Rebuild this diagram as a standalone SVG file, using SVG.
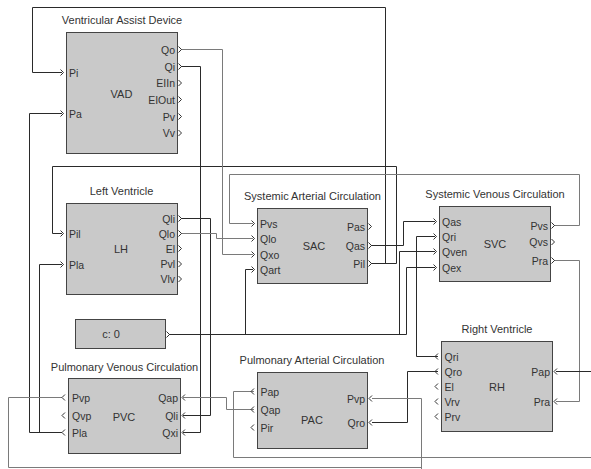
<svg xmlns="http://www.w3.org/2000/svg" width="591" height="469" viewBox="0 0 591 469">
<style>
text{font-family:"Liberation Sans",Arial,sans-serif;fill:#333}
.t{font-size:11px;text-anchor:middle}
.c{font-size:11px;text-anchor:middle}
.p{font-size:10.5px}
.r{text-anchor:end}
.box{fill:#c9c9c9;stroke:#444;stroke-width:1}
.ch{fill:none;stroke:#333;stroke-width:1}
.k{fill:none;stroke:#2a2a2a;stroke-width:1}
.g{fill:none;stroke:#7a7a7a;stroke-width:1}
.lg{fill:none;stroke:#a8a8a8;stroke-width:1}
</style>
<defs>
<path id="cin" class="ch" d="M-5.5,-3 L-2.5,0 L-5.5,3"/>
<path id="cout" class="ch" d="M1,-3 L4,0 L1,3"/>
<path id="fin" class="ch" d="M4.5,-3 L1.5,0 L4.5,3"/>
<path id="fout" class="ch" d="M-3.5,-3 L-6.5,0 L-3.5,3"/>
</defs>

<g id="connectors">
<path class="k" d="M371 263.5 H385.5 V7.5 H32.5 V72.5 H62"/>
<path class="k" d="M371 263.5 H396.5 V166.5 H52.5 V233.5 H62"/>
<path class="g" d="M181 49.5 H222.5 V254.5 H253"/>
<path class="k" d="M181 66.5 H200.5 V432.5 H183"/>
<path class="k" d="M62 432.5 H29.5 V113.5 H62"/>
<path class="k" d="M39.5 432.5 V264.5 H62"/>
<path class="k" d="M181 218.5 H210.5 V415.5 H183"/>
<path class="g" d="M181 233.5 H216.5 V238.5 H253"/>
<path class="g" d="M554 225.5 H579.5 V174.5 H229.5 V223.5 H253"/>
<path class="k" d="M169 334.5 H245.5 V269.5 H253"/>
<path class="k" d="M245 334.5 H406.5 V267.5 H435"/>
<path class="k" d="M399.5 334.5 V251.5 H435"/>
<path class="k" d="M438 356.5 H416.5 V236.5 H435"/>
<path class="k" d="M371 245.5 H403.5 V221.5 H435"/>
<path class="g" d="M554 260.5 H579.5 V401.5 H556"/>
<path class="k" d="M591 371.5 H556"/>
<path class="g" d="M254 391.5 H233.5 V457.5 H591"/>
<path class="g" d="M254 409.5 H226.5 V397.5 H183"/>
<path class="k" d="M438 371.5 H407.5 V422.5 H372"/>
<path class="g" d="M62 397.5 H8.5 V467.5 H421.5"/>
<path class="g" d="M421.5 469 V398.5 H372"/>
</g>

<g id="VAD">
<text class="t" x="122" y="24">Ventricular Assist Device</text>
<rect class="box" x="66.5" y="32.5" width="111" height="121"/>
<text class="c" x="121.5" y="97.5">VAD</text>
<use href="#cin" x="66" y="72.5"/><text class="p" x="69" y="76.5">Pi</text>
<use href="#cin" x="66" y="113.5"/><text class="p" x="69" y="117.5">Pa</text>
<use href="#cout" x="177.5" y="49.5"/><text class="p r" x="175" y="53.5">Qo</text>
<use href="#cout" x="177.5" y="66.5"/><text class="p r" x="175" y="70.5">Qi</text>
<use href="#cout" x="177.5" y="83"/><text class="p r" x="175" y="87">EIIn</text>
<use href="#cout" x="177.5" y="99.5"/><text class="p r" x="175" y="103.5">EIOut</text>
<use href="#cout" x="177.5" y="116.5"/><text class="p r" x="175" y="120.5">Pv</text>
<use href="#cout" x="177.5" y="133"/><text class="p r" x="175" y="137">Vv</text>
</g>

<g id="LH">
<text class="t" x="121.5" y="195">Left Ventricle</text>
<rect class="box" x="66.5" y="203.5" width="111" height="91"/>
<text class="c" x="121" y="252.5">LH</text>
<use href="#cin" x="66" y="233.5"/><text class="p" x="69" y="237.5">Pil</text>
<use href="#cin" x="66" y="264.5"/><text class="p" x="69" y="268.5">Pla</text>
<use href="#cout" x="177.5" y="218.5"/><text class="p r" x="175" y="222.5">Qli</text>
<use href="#cout" x="177.5" y="233.5"/><text class="p r" x="175" y="237.5">Qlo</text>
<use href="#cout" x="177.5" y="248.5"/><text class="p r" x="175" y="252.5">El</text>
<use href="#cout" x="177.5" y="264"/><text class="p r" x="175" y="268">Pvl</text>
<use href="#cout" x="177.5" y="279"/><text class="p r" x="175" y="283">Vlv</text>
</g>

<g id="SAC">
<text class="t" x="312.5" y="199.5">Systemic Arterial Circulation</text>
<rect class="box" x="257.5" y="208.5" width="110" height="75"/>
<text class="c" x="314" y="249.5">SAC</text>
<use href="#cin" x="257" y="223.5"/><text class="p" x="260" y="227.5">Pvs</text>
<use href="#cin" x="257" y="238.5"/><text class="p" x="260" y="242.5">Qlo</text>
<use href="#cin" x="257" y="254.5"/><text class="p" x="260" y="258.5">Qxo</text>
<use href="#cin" x="257" y="269.5"/><text class="p" x="260" y="273.5">Qart</text>
<use href="#cout" x="367.5" y="226.5"/><text class="p r" x="365" y="230.5">Pas</text>
<use href="#cout" x="367.5" y="245.5"/><text class="p r" x="365" y="249.5">Qas</text>
<use href="#cout" x="367.5" y="263.5"/><text class="p r" x="365" y="267.5">Pil</text>
</g>

<g id="SVC">
<text class="t" x="495" y="198">Systemic Venous Circulation</text>
<rect class="box" x="439.5" y="206.5" width="111" height="75"/>
<text class="c" x="495" y="248">SVC</text>
<use href="#cin" x="439" y="221.5"/><text class="p" x="442" y="225.5">Qas</text>
<use href="#cin" x="439" y="236.5"/><text class="p" x="442" y="240.5">Qri</text>
<use href="#cin" x="439" y="251.5"/><text class="p" x="442" y="255.5">Qven</text>
<use href="#cin" x="439" y="267.5"/><text class="p" x="442" y="271.5">Qex</text>
<use href="#cout" x="550.5" y="225.5"/><text class="p r" x="548" y="229.5">Pvs</text>
<use href="#cout" x="550.5" y="242"/><text class="p r" x="548" y="246">Qvs</text>
<use href="#cout" x="550.5" y="260.5"/><text class="p r" x="548" y="264.5">Pra</text>
</g>

<g id="const">
<rect class="box" x="75.5" y="319.5" width="90" height="29"/>
<text class="c" x="111" y="338">c: 0</text>
<use href="#cout" x="165.5" y="334.5"/>
</g>

<g id="PVC">
<text class="t" x="124.5" y="370.5">Pulmonary Venous Circulation</text>
<rect class="box" x="68.5" y="378.5" width="112" height="75"/>
<text class="c" x="124" y="420.5">PVC</text>
<use href="#fout" x="68.5" y="397.5"/><text class="p" x="72" y="401.5">Pvp</text>
<use href="#fout" x="68.5" y="415.5"/><text class="p" x="72" y="419.5">Qvp</text>
<use href="#fout" x="68.5" y="432.5"/><text class="p" x="72" y="436.5">Pla</text>
<use href="#fin" x="180.5" y="397.5"/><text class="p r" x="178" y="401.5">Qap</text>
<use href="#fin" x="180.5" y="415.5"/><text class="p r" x="178" y="419.5">Qli</text>
<use href="#fin" x="180.5" y="432.5"/><text class="p r" x="178" y="436.5">Qxi</text>
</g>

<g id="PAC">
<text class="t" x="312" y="364">Pulmonary Arterial Circulation</text>
<rect class="box" x="257.5" y="372.5" width="110" height="76"/>
<text class="c" x="312" y="423.5">PAC</text>
<use href="#fout" x="257.5" y="391.5"/><text class="p" x="260.5" y="395.5">Pap</text>
<use href="#fout" x="257.5" y="409.5"/><text class="p" x="260.5" y="413.5">Qap</text>
<use href="#fout" x="257.5" y="427.5"/><text class="p" x="260.5" y="431.5">Pir</text>
<use href="#fin" x="367.5" y="398.5"/><text class="p r" x="365" y="402.5">Pvp</text>
<use href="#fin" x="367.5" y="422.5"/><text class="p r" x="365" y="426.5">Qro</text>
</g>

<g id="RH">
<text class="t" x="497" y="333">Right Ventricle</text>
<rect class="box" x="441.5" y="341.5" width="111" height="90"/>
<text class="c" x="497" y="390.5">RH</text>
<use href="#fout" x="441.5" y="356.5"/><text class="p" x="444.5" y="360.5">Qri</text>
<use href="#fout" x="441.5" y="371.5"/><text class="p" x="444.5" y="375.5">Qro</text>
<use href="#fout" x="441.5" y="386.5"/><text class="p" x="444.5" y="390.5">El</text>
<use href="#fout" x="441.5" y="401.5"/><text class="p" x="444.5" y="405.5">Vrv</text>
<use href="#fout" x="441.5" y="416.5"/><text class="p" x="444.5" y="420.5">Prv</text>
<use href="#fin" x="552.5" y="371.5"/><text class="p r" x="550" y="375.5">Pap</text>
<use href="#fin" x="552.5" y="401.5"/><text class="p r" x="550" y="405.5">Pra</text>
</g>
</svg>
